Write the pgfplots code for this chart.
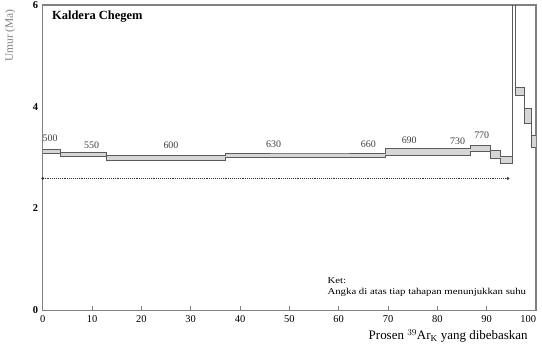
\documentclass[border=0pt]{standalone}
\usepackage{pgfplots}
\pgfplotsset{compat=1.18}
\usepackage{fontspec}
\setmainfont{Liberation Serif}
\definecolor{axgray}{HTML}{808080}
\definecolor{stepfill}{HTML}{D6D6D6}
\definecolor{stepline}{HTML}{5A5A5A}
\begin{document}
\begin{tikzpicture}
\path[use as bounding box] (-42.7bp,-39bp) rectangle (499bp,310bp);
\begin{axis}[
  at={(0,0)}, anchor=south west,
  scale only axis, width=493bp, height=305bp,
  xmin=0, xmax=100, ymin=0, ymax=6,
  axis line style={draw=axgray, line width=1.3pt},
  xtick={0,10,...,100}, ytick={0,2,4,6},
  xticklabels={0,10,20,30,40,50,60,70,80,90,\makebox[0pt][r]{100}},
  xtick pos=bottom, ytick pos=left,
  tick align=inside, major tick length=4bp,
  xtick style={draw=axgray, line width=0.8pt},
  ytick style={draw=none},
  /pgf/number format/assume math mode=true,
  xticklabel style={font=\fontsize{10.5}{12}\selectfont, yshift=-2bp},
  yticklabel style={font=\fontsize{10.5}{12}\selectfont\bfseries, xshift=-1bp},
  xlabel={Prosen $^{39}$Ar$_{\mathrm{K}}$ yang dibebaskan},
  xlabel style={at={(rel axis cs:0.822,-0.084)}, anchor=center, font=\fontsize{13}{15}\selectfont},
  ylabel={Umur (Ma)},
  ylabel style={at={(rel axis cs:-0.066,0.90)}, anchor=center, font=\fontsize{11.5}{13}\selectfont, text=axgray},
  clip=true,
]
% filled boxes of each heating step
\addplot[fill=stepfill, draw=none] coordinates {(0,3.08) (3.5,3.08) (3.5,3.16) (0,3.16)} -- cycle;
\addplot[fill=stepfill, draw=none] coordinates {(3.5,3.02) (12.8,3.02) (12.8,3.10) (3.5,3.10)} -- cycle;
\addplot[fill=stepfill, draw=none] coordinates {(12.8,2.95) (37.0,2.95) (37.0,3.04) (12.8,3.04)} -- cycle;
\addplot[fill=stepfill, draw=none] coordinates {(37.0,3.01) (55,3.01) (55,3.09) (37.0,3.09)} -- cycle;
\addplot[fill=stepfill, draw=none] coordinates {(55,3.01) (69.4,3.01) (69.4,3.09) (55,3.09)} -- cycle;
\addplot[fill=stepfill, draw=none] coordinates {(69.4,3.05) (80,3.05) (80,3.18) (69.4,3.18)} -- cycle;
\addplot[fill=stepfill, draw=none] coordinates {(80,3.05) (86.7,3.05) (86.7,3.18) (80,3.18)} -- cycle;
\addplot[fill=stepfill, draw=none] coordinates {(86.7,3.12) (90.7,3.12) (90.7,3.25) (86.7,3.25)} -- cycle;
\addplot[fill=stepfill, draw=none] coordinates {(90.7,2.99) (92.8,2.99) (92.8,3.15) (90.7,3.15)} -- cycle;
\addplot[fill=stepfill, draw=none] coordinates {(92.8,2.89) (95.2,2.89) (95.2,3.02) (92.8,3.02)} -- cycle;
\addplot[fill=stepfill, draw=none] coordinates {(95.9,4.23) (97.6,4.23) (97.6,4.39) (95.9,4.39)} -- cycle;
\addplot[fill=stepfill, draw=none] coordinates {(97.6,3.68) (99.0,3.68) (99.0,3.96) (97.6,3.96)} -- cycle;
\addplot[fill=stepfill, draw=none] coordinates {(99.0,3.21) (100,3.21) (100,3.44) (99.0,3.44)} -- cycle;
% upper and lower outlines of the spectrum
\addplot[const plot mark left, draw=stepline, line width=0.6pt] coordinates {
 (0,3.16) (3.5,3.10) (12.8,3.04) (37.0,3.09) (55,3.09) (69.4,3.18) (80,3.18) (86.7,3.25) (90.7,3.15) (92.8,3.02) (95.2,6.5) (95.9,4.39) (97.6,3.96) (99.0,3.44) (100,3.44)};
\addplot[const plot mark left, draw=stepline, line width=0.6pt] coordinates {
 (0,3.08) (3.5,3.02) (12.8,2.95) (37.0,3.01) (55,3.01) (69.4,3.05) (80,3.05) (86.7,3.12) (90.7,2.99) (92.8,2.89) (95.2,6.4) (95.9,4.23) (97.6,3.68) (99.0,3.21) (100,3.21)};
% plateau line
\addplot[densely dotted, line width=0.9pt, color=black!80, mark=*, mark size=0.9pt, mark options={solid}] coordinates {(0,2.59) (94.3,2.59)};
% temperature labels
\node[font=\fontsize{10}{11}\selectfont, text=black!75] at (axis cs:1.5,3.39) {500};
\node[font=\fontsize{10}{11}\selectfont, text=black!75] at (axis cs:9.9,3.25) {550};
\node[font=\fontsize{10}{11}\selectfont, text=black!75] at (axis cs:26,3.25) {600};
\node[font=\fontsize{10}{11}\selectfont, text=black!75] at (axis cs:46.8,3.27) {630};
\node[font=\fontsize{10}{11}\selectfont, text=black!75] at (axis cs:66,3.27) {660};
\node[font=\fontsize{10}{11}\selectfont, text=black!75] at (axis cs:74.3,3.35) {690};
\node[font=\fontsize{10}{11}\selectfont, text=black!75] at (axis cs:84.1,3.33) {730};
\node[font=\fontsize{10}{11}\selectfont, text=black!75] at (axis cs:89,3.44) {770};
\node[anchor=west, font=\fontsize{12.5}{14}\selectfont\bfseries] at (rel axis cs:0.012,0.961) {Kaldera Chegem};
\node[anchor=west, font=\fontsize{9}{10}\selectfont, inner sep=0pt, xscale=1.2] at (rel axis cs:0.577,0.098) {Ket:};
\node[anchor=west, font=\fontsize{9}{10}\selectfont, inner sep=0pt, xscale=1.2] at (rel axis cs:0.577,0.059) {Angka di atas tiap tahapan menunjukkan suhu};
\end{axis}
\end{tikzpicture}
\end{document}
